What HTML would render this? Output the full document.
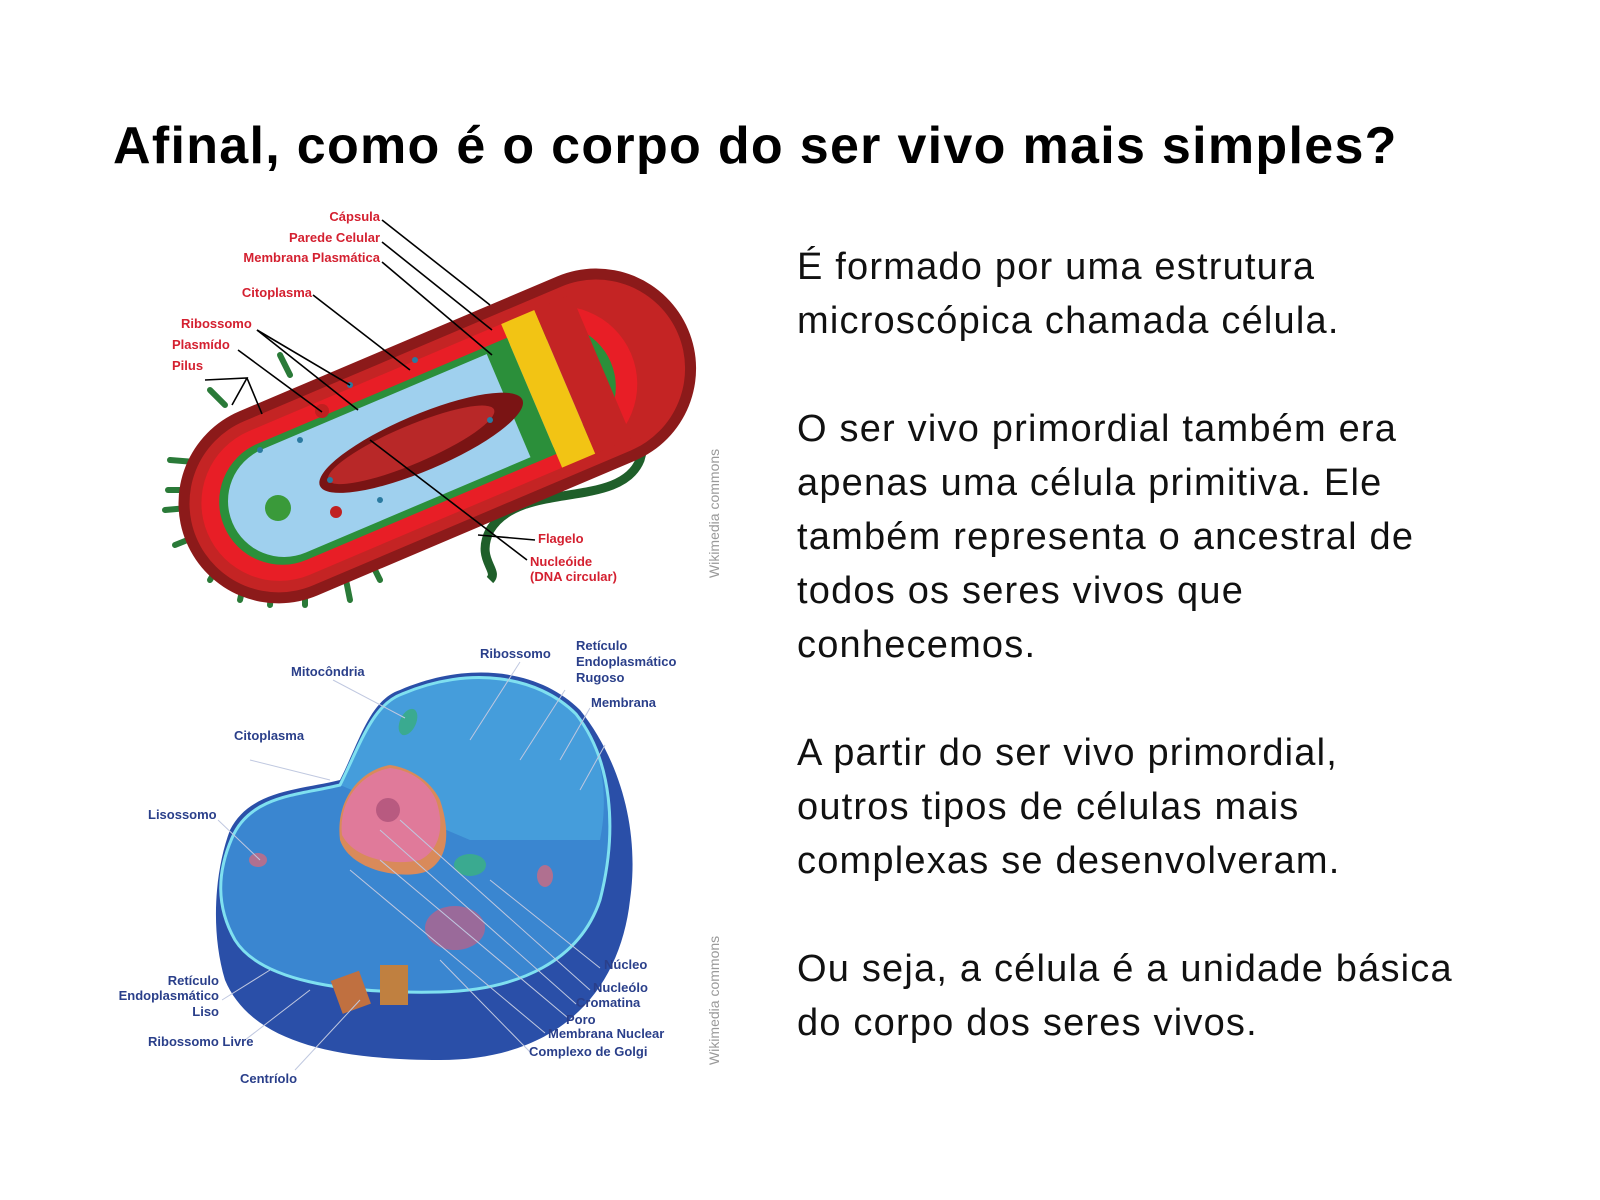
<!DOCTYPE html>
<html><head><meta charset="utf-8"><style>
html,body{margin:0;padding:0;background:#fff;}
body{width:1600px;height:1200px;position:relative;overflow:hidden;font-family:"Liberation Sans",sans-serif;}
h1{position:absolute;left:113px;top:116px;margin:0;font-size:52px;font-weight:bold;color:#000;letter-spacing:1.3px;white-space:nowrap;}
.txt{position:absolute;left:797px;top:240px;font-size:38px;line-height:54px;color:#111;letter-spacing:1.2px;white-space:nowrap;}
.txt p{margin:0 0 54px 0;}
svg{position:absolute;left:0;top:0;}
</style></head><body>
<h1>Afinal, como é o corpo do ser vivo mais simples?</h1>
<div class="txt">
<p>É formado por uma estrutura<br>microscópica chamada célula.</p>
<p>O ser vivo primordial também era<br>apenas uma célula primitiva. Ele<br>também representa o ancestral de<br>todos os seres vivos que<br>conhecemos.</p>
<p>A partir do ser vivo primordial,<br>outros tipos de células mais<br>complexas se desenvolveram.</p>
<p>Ou seja, a célula é a unidade básica<br>do corpo dos seres vivos.</p>
</div>
<svg width="1600" height="1200" xmlns="http://www.w3.org/2000/svg">
<path d="M580 330 C610 300 650 290 660 310 C680 360 650 420 640 460 C620 510 520 480 490 530 C475 560 500 570 490 580" fill="none" stroke="#1f5f2a" stroke-width="9"/>
<g stroke="#2a7a38" stroke-width="6" stroke-linecap="round">
<line x1="170" y1="460" x2="195" y2="462"/><line x1="168" y1="490" x2="190" y2="490"/><line x1="165" y1="510" x2="188" y2="508"/>
<line x1="175" y1="545" x2="200" y2="535"/><line x1="210" y1="580" x2="222" y2="560"/><line x1="240" y1="600" x2="245" y2="578"/>
<line x1="270" y1="605" x2="272" y2="580"/><line x1="305" y1="605" x2="305" y2="580"/><line x1="350" y1="600" x2="345" y2="575"/>
<line x1="380" y1="580" x2="370" y2="560"/><line x1="210" y1="390" x2="225" y2="405"/><line x1="280" y1="355" x2="290" y2="375"/>
</g>
<g transform="rotate(-23 420 440)">
<rect x="165" y="343" width="545" height="200" rx="100" fill="#8c1a1a"/>
<rect x="176" y="354" width="523" height="178" rx="89" fill="#c42424"/>
<rect x="188" y="365" width="460" height="156" rx="78" fill="#e81e26"/>
<rect x="206" y="380" width="420" height="126" rx="63" fill="#2b8f3a"/>
<rect x="215" y="387" width="385" height="112" rx="56" fill="#9fd0ee"/>
<rect x="540" y="365" width="36" height="156" fill="#f2c414"/>
<rect x="576" y="365" width="40" height="156" fill="#c42424"/>
<rect x="515" y="380" width="25" height="126" fill="#2b8f3a"/>
<ellipse cx="420" cy="443" rx="110" ry="28" fill="#7a1414"/>
<ellipse cx="410" cy="441" rx="90" ry="19" fill="#b82828"/>
</g>
<circle cx="278" cy="508" r="13" fill="#3a9a3a"/>
<circle cx="322" cy="411" r="7" fill="#c02020"/><circle cx="336" cy="512" r="6" fill="#c02020"/>
<g fill="#2a7aa0"><circle cx="260" cy="450" r="3"/><circle cx="300" cy="440" r="3"/><circle cx="350" cy="385" r="3"/><circle cx="415" cy="360" r="3"/><circle cx="330" cy="480" r="3"/><circle cx="380" cy="500" r="3"/><circle cx="490" cy="420" r="3"/></g>
<g stroke="#000" stroke-width="1.6" fill="none">
<path d="M382 220 L490 305"/><path d="M382 242 L492 330"/><path d="M382 262 L492 355"/><path d="M313 295 L410 370"/>
<path d="M257 330 L350 385"/><path d="M257 330 L358 410"/><path d="M238 350 L322 412"/>
<path d="M205 380 L247 378 L232 405"/><path d="M247 378 L262 414"/>
<path d="M535 540 L478 535"/><path d="M527 560 L370 440"/>
</g>
<g font-family="Liberation Sans,sans-serif" font-weight="bold" font-size="13" fill="#d42030">
<text x="380" y="221" text-anchor="end">Cápsula</text>
<text x="380" y="242" text-anchor="end">Parede Celular</text>
<text x="380" y="262" text-anchor="end">Membrana Plasmática</text>
<text x="312" y="297" text-anchor="end">Citoplasma</text>
<text x="181" y="328">Ribossomo</text>
<text x="172" y="349">Plasmído</text>
<text x="172" y="370">Pilus</text>
<text x="538" y="543">Flagelo</text>
<text x="530" y="566">Nucleóide</text>
<text x="530" y="581">(DNA circular)</text>
</g>
<text transform="translate(719 578) rotate(-90)" font-family="Liberation Sans,sans-serif" font-size="14" fill="#999">Wikimedia commons</text>
<text transform="translate(719 1065) rotate(-90)" font-family="Liberation Sans,sans-serif" font-size="14" fill="#999">Wikimedia commons</text>
<path d="M230 830 C250 790 300 790 340 780 C360 740 370 700 400 690 C470 660 540 670 580 710 C620 760 640 830 630 900 C620 990 560 1060 440 1060 C330 1060 250 1040 225 980 C210 930 215 870 230 830Z" fill="#2a4fa8"/>
<path d="M232 838 C250 795 300 795 340 785 C360 745 372 705 402 694 C470 665 538 676 576 714 C612 760 618 830 600 900 C580 960 520 990 440 992 C340 994 260 980 235 940 C215 905 218 870 232 838Z" fill="#3a86d0"/>
<path d="M340 785 C360 745 372 705 402 694 C470 665 538 676 576 714 C600 745 610 790 600 840 L470 840 Z" fill="#4aa6df" opacity="0.7"/>
<path d="M232 838 C250 795 300 795 340 785 C360 745 372 705 402 694 C470 665 538 676 576 714 C612 760 618 830 600 900 C580 960 520 990 440 992 C340 994 260 980 235 940 C215 905 218 870 232 838Z" fill="none" stroke="#7fe0f0" stroke-width="3"/>
<path d="M340 840 C335 800 360 770 390 765 C410 768 430 780 440 800 C450 830 450 860 425 872 C400 880 350 870 340 840Z" fill="#d98a5a"/>
<path d="M342 835 C338 800 362 773 390 768 C410 770 428 782 436 800 C445 826 440 850 420 860 C395 866 355 860 342 835Z" fill="#e07a9a"/>
<circle cx="388" cy="810" r="12" fill="#b85a80"/>
<ellipse cx="408" cy="722" rx="8" ry="14" fill="#3aaa90" transform="rotate(25 408 722)"/>
<ellipse cx="470" cy="865" rx="16" ry="11" fill="#3aaa90"/>
<ellipse cx="455" cy="928" rx="30" ry="22" fill="#9a6a9a"/>
<ellipse cx="258" cy="860" rx="9" ry="7" fill="#b07090"/>
<ellipse cx="545" cy="876" rx="8" ry="11" fill="#b07090"/>
<rect x="335" y="975" width="30" height="35" fill="#c07040" transform="rotate(-20 350 990)"/>
<rect x="380" y="965" width="28" height="40" fill="#c08040"/>
<g stroke="#c0c8e0" stroke-width="1" fill="none">
<path d="M333 680 L405 718"/><path d="M520 662 L470 740"/><path d="M565 690 L520 760"/><path d="M590 708 L560 760"/><path d="M605 745 L580 790"/>
<path d="M250 760 L330 780"/><path d="M218 820 L260 860"/>
<path d="M600 968 L490 880"/><path d="M590 990 L400 820"/><path d="M576 1004 L380 830"/><path d="M568 1018 L380 860"/><path d="M545 1033 L350 870"/><path d="M530 1052 L440 960"/>
<path d="M222 1000 L270 970"/><path d="M245 1040 L310 990"/><path d="M295 1070 L360 1000"/>
</g>
<g font-family="Liberation Sans,sans-serif" font-weight="bold" font-size="13" fill="#2a3f8a">
<text x="480" y="658">Ribossomo</text>
<text x="576" y="650">Retículo</text><text x="576" y="666">Endoplasmático</text><text x="576" y="682">Rugoso</text>
<text x="291" y="676">Mitocôndria</text>
<text x="591" y="707">Membrana</text>
<text x="234" y="740">Citoplasma</text>
<text x="148" y="819">Lisossomo</text>
<text x="604" y="969">Núcleo</text>
<text x="593" y="992">Nucleólo</text>
<text x="576" y="1007">Cromatina</text>
<text x="566" y="1024">Poro</text>
<text x="548" y="1038">Membrana Nuclear</text>
<text x="529" y="1056">Complexo de Golgi</text>
<text x="219" y="985" text-anchor="end">Retículo</text><text x="219" y="1000" text-anchor="end">Endoplasmático</text><text x="219" y="1016" text-anchor="end">Liso</text>
<text x="148" y="1046">Ribossomo Livre</text>
<text x="240" y="1083">Centríolo</text>
</g>
</svg>
</body></html>
